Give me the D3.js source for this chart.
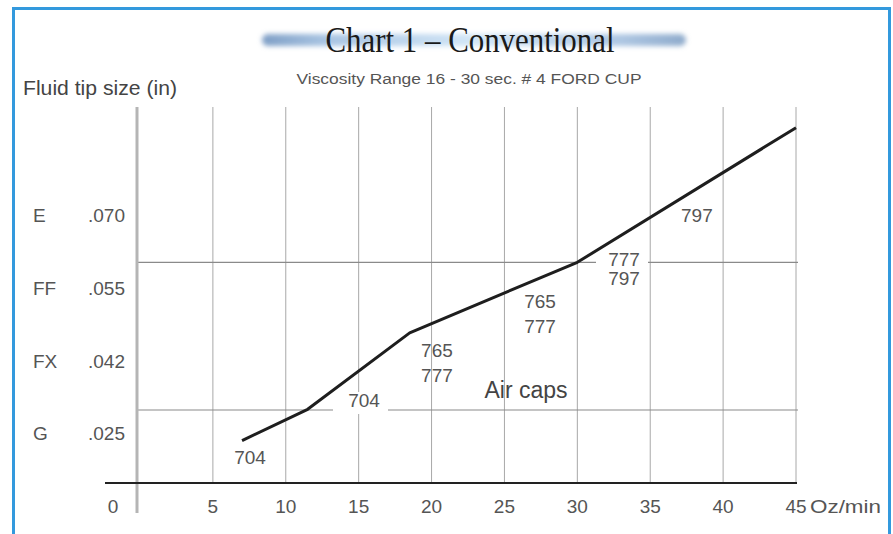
<!DOCTYPE html>
<html><head><meta charset="utf-8">
<script src="https://cdn.jsdelivr.net/npm/d3@7/dist/d3.min.js"></script>
<style>html,body{margin:0;padding:0;background:#fff;}svg{display:block;}</style>
</head><body>
<svg id="c" width="893" height="534"></svg>
<script>
// ---- data ----
const xTicks = [0, 5, 10, 15, 20, 25, 30, 35, 40, 45];
const tipCodes = ["G", "FX", "FF", "E"];
const tipSizes = [".025", ".042", ".055", ".070"];
const tipLevels = [1, 2, 3, 4];
const bandLevels = [1.32, 3.35];           // horizontal separators
const flowX = [7, 11.5, 18.5, 30, 45];     // Oz/min
const flowLevel = [0.9, 1.33, 2.38, 3.35, 5.2];
const capLabels = ["704", "704", "765", "777", "765", "777", "777", "797", "797"];
const capX =      [7.55, 15.37, 20.37, 20.37, 27.44, 27.44, 33.2, 33.2, 38.2];
const capLevel =  [0.674, 1.458, 2.14, 1.80, 2.82, 2.475, 3.40, 3.13, 4.0];

const svg = d3.select("#c");
const x = d3.scaleLinear().domain([0, 45]).range([140, 796]);
const y = d3.scaleLinear().domain([1, 4]).range([433.3, 215]);
const font = "'Liberation Sans', Arial, sans-serif";

// border
svg.append("path").attr("d", "M13.5,534 V8.5 H889.5 V534")
  .attr("fill", "none").attr("stroke", "#3399dd").attr("stroke-width", 3);

// title band
const defs = svg.append("defs");
const lg = defs.append("linearGradient").attr("id", "band");
[["0%", "#7f9fc6"], ["15%", "#a8c4e2"], ["50%", "#d2e6f7"], ["85%", "#adc6e2"], ["100%", "#8fabcc"]]
  .forEach(s => lg.append("stop").attr("offset", s[0]).attr("stop-color", s[1]));
defs.append("filter").attr("id", "blur").attr("x", "-10%").attr("y", "-100%").attr("width", "120%").attr("height", "300%")
  .append("feGaussianBlur").attr("stdDeviation", 2.5);
svg.append("rect").attr("x", 262).attr("y", 34).attr("width", 424).attr("height", 12).attr("rx", 6)
  .attr("fill", "url(#band)").attr("filter", "url(#blur)");

svg.append("text").attr("x", 470).attr("y", 52).attr("text-anchor", "middle")
  .attr("font-family", "'Liberation Serif', 'Times New Roman', serif").attr("font-size", 35)
  .attr("textLength", 289).attr("lengthAdjust", "spacingAndGlyphs")
  .attr("fill", "#1a1a1a").text("Chart 1 \u2013 Conventional");

svg.append("text").attr("x", 469).attr("y", 84).attr("text-anchor", "middle")
  .attr("font-family", font).attr("font-size", 15.5).attr("fill", "#555")
  .attr("textLength", 345).attr("lengthAdjust", "spacingAndGlyphs")
  .text("Viscosity Range 16 - 30 sec. # 4 FORD CUP");

svg.append("text").attr("x", 23).attr("y", 95)
  .attr("font-family", font).attr("font-size", 19.5).attr("fill", "#444")
  .attr("textLength", 154).attr("lengthAdjust", "spacingAndGlyphs")
  .text("Fluid tip size (in)");

// vertical gridlines
svg.append("g").selectAll("line").data(xTicks.filter(d => d > 0)).join("line")
  .attr("x1", d => x(d)).attr("x2", d => x(d)).attr("y1", 107).attr("y2", 483)
  .attr("stroke", "#a8a8a8").attr("stroke-width", 1);

// horizontal separators
svg.append("g").selectAll("line").data(bandLevels).join("line")
  .attr("x1", 138).attr("x2", x(45) + 2).attr("y1", d => y(d)).attr("y2", d => y(d))
  .attr("stroke", "#8a8a8a").attr("stroke-width", 1.2);

// y axis (thick gray)
svg.append("line").attr("x1", x(0) - 3).attr("x2", x(0) - 3).attr("y1", 107).attr("y2", 513)
  .attr("stroke", "#b5b5b5").attr("stroke-width", 3);

// x axis
svg.append("line").attr("x1", 105).attr("x2", x(45) + 1).attr("y1", 483).attr("y2", 483)
  .attr("stroke", "#222").attr("stroke-width", 2);

// x tick labels
svg.append("g").selectAll("text").data(xTicks).join("text")
  .attr("x", d => d === 0 ? x(0) - 27 : x(d)).attr("y", 513)
  .attr("text-anchor", "middle").attr("font-family", font).attr("font-size", 19).attr("fill", "#555")
  .text(d => d);
svg.append("text").attr("x", 810).attr("y", 513).attr("font-family", font).attr("font-size", 19)
  .attr("fill", "#555").attr("textLength", 71).attr("lengthAdjust", "spacingAndGlyphs").text("Oz/min");

// y labels
svg.append("g").selectAll("text").data(tipLevels).join("text")
  .attr("x", 33).attr("y", d => y(d) + 7).attr("font-family", font).attr("font-size", 19).attr("fill", "#555")
  .text((d, i) => tipCodes[i]);
svg.append("g").selectAll("text").data(tipLevels).join("text")
  .attr("x", 125).attr("y", d => y(d) + 7).attr("text-anchor", "end").attr("font-family", font)
  .attr("font-size", 19).attr("fill", "#555")
  .text((d, i) => tipSizes[i]);

// white backgrounds behind labels that break the separators
svg.append("rect").attr("x", 333).attr("y", 392).attr("width", 55).attr("height", 22).attr("fill", "#fff");
svg.append("rect").attr("x", 596).attr("y", 246).attr("width", 52).attr("height", 40).attr("fill", "#fff");

// main line
const pts = flowX.map((v, i) => [v, flowLevel[i]]);
svg.append("path").datum(pts)
  .attr("d", d3.line().x(d => x(d[0])).y(d => y(d[1])))
  .attr("fill", "none").attr("stroke", "#1e1e1e").attr("stroke-width", 3).attr("stroke-linejoin", "round");

// air cap labels
svg.append("g").selectAll("text").data(capLabels).join("text")
  .attr("x", (d, i) => x(capX[i])).attr("y", (d, i) => y(capLevel[i]) + 7)
  .attr("text-anchor", "middle").attr("font-family", font).attr("font-size", 19).attr("fill", "#555")
  .text(d => d);
svg.append("text").attr("x", x(26.48)).attr("y", y(1.595) + 8).attr("text-anchor", "middle")
  .attr("font-family", font).attr("font-size", 23).attr("fill", "#444").text("Air caps");
</script>
</body></html>
